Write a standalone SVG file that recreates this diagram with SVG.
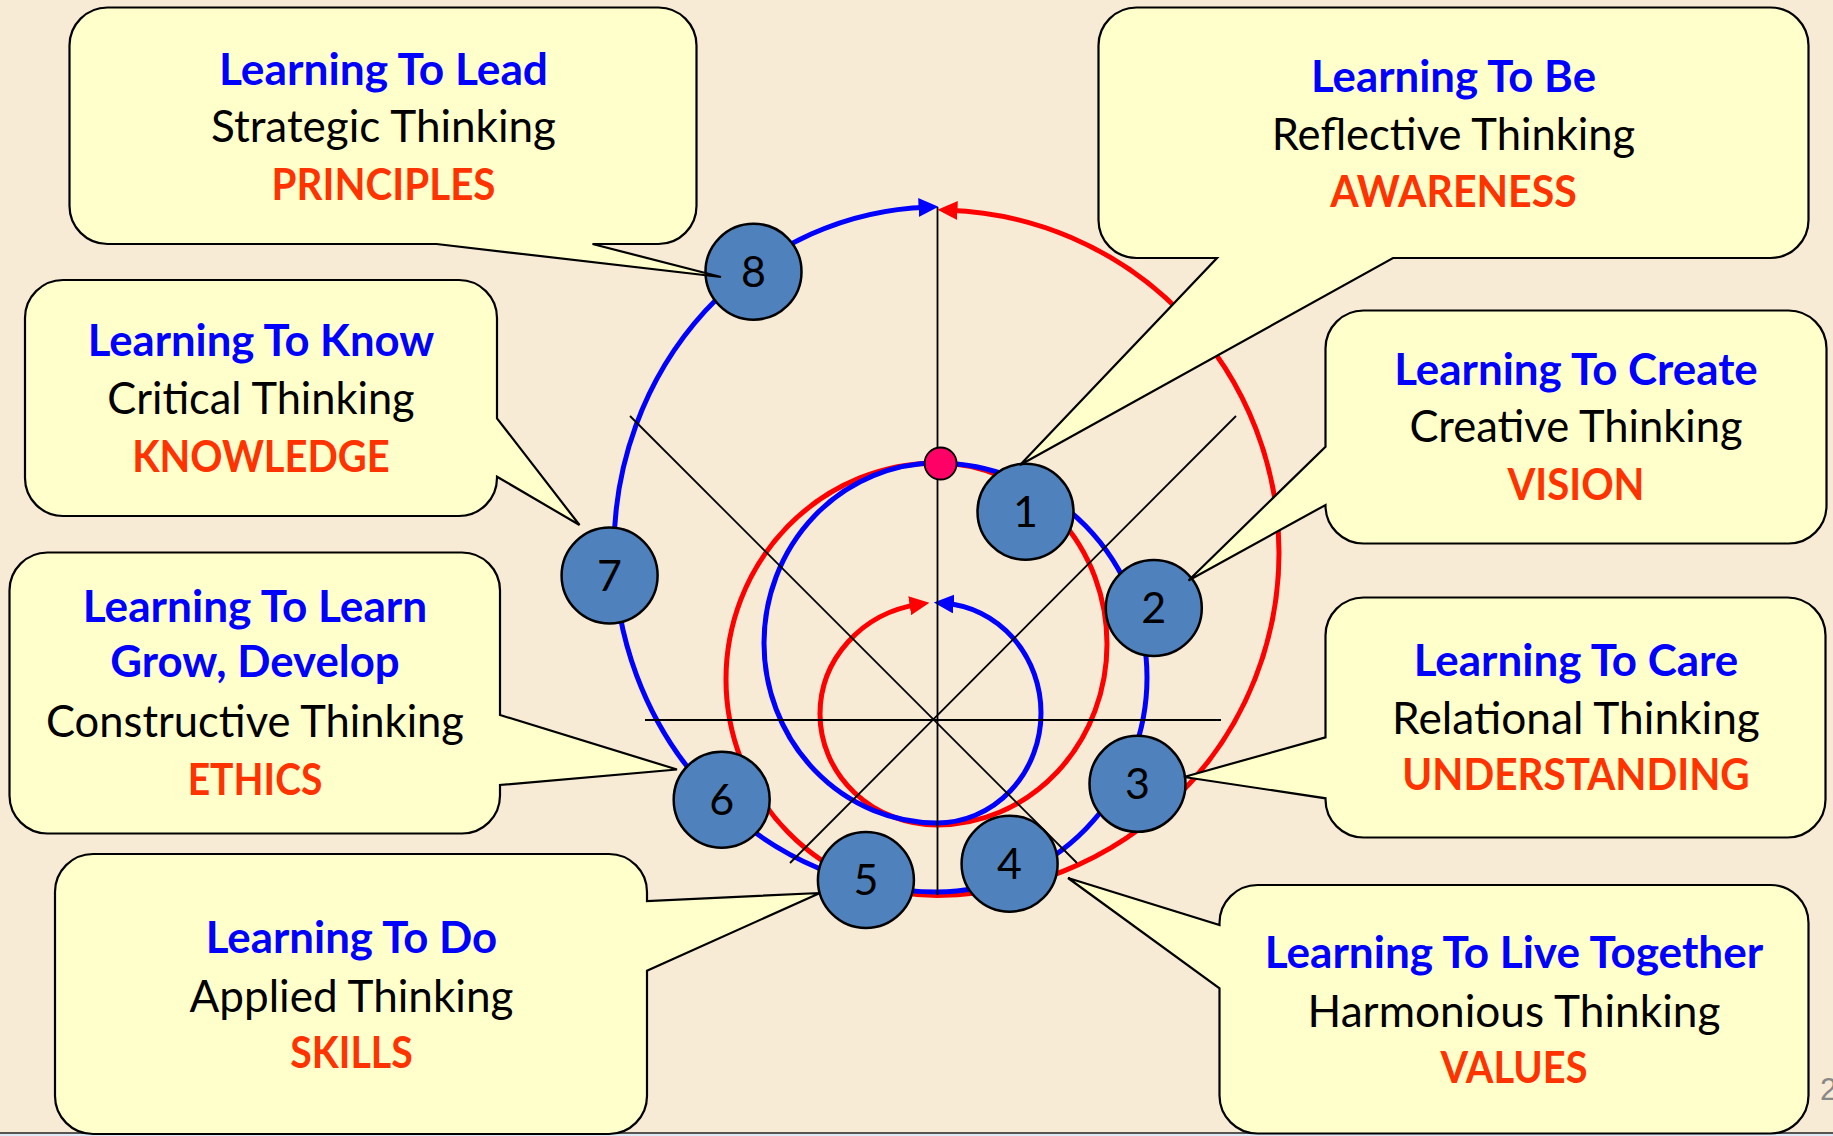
<svg xmlns="http://www.w3.org/2000/svg" width="1833" height="1136" viewBox="0 0 1833 1136">
<style>
.box{fill:#FFFFCC;stroke:#000;stroke-width:2.2;stroke-linejoin:miter}
.node{fill:#4F81BD;stroke:#000;stroke-width:2.5}
.t{font-family:Lato,"Liberation Sans",sans-serif;font-size:44px;text-anchor:middle}
.h{font-weight:700;fill:#0000FF}
.s{font-weight:400;fill:#000}
.k{font-weight:700;fill:#FF3300}
.num{font-family:Lato,"Liberation Sans",sans-serif;font-size:43px;text-anchor:middle;fill:#000}
.ax{stroke:#000;stroke-width:1.8;fill:none}
.sp{fill:none;stroke-width:5}
</style>
<defs>
<marker id="arrB" markerUnits="userSpaceOnUse" markerWidth="20" markerHeight="19" refX="9" refY="9.5" orient="auto-start-reverse"><path d="M0,0 L20,9.5 L0,19 Z" fill="#0000FF"/></marker>
<marker id="arrR" markerUnits="userSpaceOnUse" markerWidth="20" markerHeight="19" refX="9" refY="9.5" orient="auto-start-reverse"><path d="M0,0 L20,9.5 L0,19 Z" fill="#FF0000"/></marker>
</defs>
<rect x="0" y="0" width="1833" height="1136" fill="#F8EBD5"/>
<rect x="0" y="1133.5" width="1833" height="3" fill="#DCE9F5"/>
<line x1="0" y1="1133" x2="1833" y2="1133" stroke="#222" stroke-width="1.5"/>
<text x="1820" y="1100" font-family="Liberation Sans, sans-serif" font-size="31" fill="#888">2</text>

<g id="connectors">
<path class="sp" stroke="#FF0000" marker-start="url(#arrR)" marker-end="url(#arrR)" d="M948.5,210.2 A342,342.7 0 0 1 1279,552.7 A342,342.7 0 0 1 937,895.4 A211,216.2 0 0 1 726,679.2 A211,216.2 0 0 1 937,463 A170,181 0 0 1 1107,644 A170,181 0 0 1 937,825 A117,111 0 0 1 820,714 A117,111 0 0 1 918.6,604.4"/>
<path class="sp" stroke="#0000FF" marker-start="url(#arrB)" marker-end="url(#arrB)" d="M927.5,207.15 A323,342.5 0 0 0 614,549.5 A323,342.5 0 0 0 937,892 A210,214.5 0 0 0 1147,677.5 A210,214.5 0 0 0 937,463 A173,180 0 0 0 764,643 A173,180 0 0 0 937,823 A104,110 0 0 0 1041,713 A104,110 0 0 0 944.8,603.3"/>
<line class="ax" x1="937.5" y1="207" x2="937.5" y2="895"/>
<line class="ax" x1="645" y1="720" x2="1221" y2="720"/>
<line class="ax" x1="630" y1="416" x2="1077" y2="863"/>
<line class="ax" x1="1236" y1="416" x2="790" y2="863"/>
</g>

<g id="node-8"><circle class="node" cx="753.5" cy="271.7" r="48"/><text class="num" x="753.5" y="287">8</text></g>
<g id="node-1"><circle class="node" cx="1025.5" cy="511.7" r="48"/><text class="num" x="1025.5" y="527">1</text></g>
<g id="node-2"><circle class="node" cx="1153.8" cy="608" r="48"/><text class="num" x="1153.8" y="623">2</text></g>
<g id="node-7"><circle class="node" cx="609.6" cy="575.5" r="48"/><text class="num" x="609.6" y="591">7</text></g>
<g id="node-3"><circle class="node" cx="1137.5" cy="783.8" r="48"/><text class="num" x="1137.5" y="799">3</text></g>
<g id="node-6"><circle class="node" cx="721.7" cy="799.7" r="48"/><text class="num" x="721.7" y="815">6</text></g>
<g id="node-5"><circle class="node" cx="865.9" cy="880" r="48"/><text class="num" x="865.9" y="895">5</text></g>
<g id="node-4"><circle class="node" cx="1009.6" cy="863.7" r="48"/><text class="num" x="1009.6" y="879">4</text></g>
<g id="start-dot"><circle cx="940.6" cy="463.5" r="16" fill="#FF0066" stroke="#000" stroke-width="1.8"/></g>

<g id="callout-lead">
<path class="box" d="M107.5,7.5 H658.5 A38,38 0 0 1 696.5,45.5 V206 A38,38 0 0 1 658.5,244 H592.5 L721,277 L436.5,244 H107.5 A38,38 0 0 1 69.5,206 V45.5 A38,38 0 0 1 107.5,7.5 Z"/>
<text class="t h" x="383.5" y="85" textLength="329" lengthAdjust="spacingAndGlyphs">Learning To Lead</text>
<text class="t s" x="383.5" y="142" textLength="345" lengthAdjust="spacingAndGlyphs">Strategic Thinking</text>
<text class="t k" x="383.5" y="199.5" textLength="224" lengthAdjust="spacingAndGlyphs">PRINCIPLES</text>
</g>
<g id="callout-be">
<path class="box" d="M1136.5,7.5 H1770.5 A38,38 0 0 1 1808.5,45.5 V220 A38,38 0 0 1 1770.5,258 H1393 L1020,465 L1217,258 H1136.5 A38,38 0 0 1 1098.5,220 V45.5 A38,38 0 0 1 1136.5,7.5 Z"/>
<text class="t h" x="1453.5" y="91.7" textLength="285" lengthAdjust="spacingAndGlyphs">Learning To Be</text>
<text class="t s" x="1453.5" y="150" textLength="363.5" lengthAdjust="spacingAndGlyphs">Reflective Thinking</text>
<text class="t k" x="1453.5" y="206.5" textLength="246.4" lengthAdjust="spacingAndGlyphs">AWARENESS</text>
</g>
<g id="callout-know">
<path class="box" d="M63,280 H459 A38,38 0 0 1 497,318 V418.3 L579.5,525 L497,476.7 V478 A38,38 0 0 1 459,516 H63 A38,38 0 0 1 25,478 V318 A38,38 0 0 1 63,280 Z"/>
<text class="t h" x="261" y="356" textLength="346.4" lengthAdjust="spacingAndGlyphs">Learning To Know</text>
<text class="t s" x="261" y="414" textLength="307.3" lengthAdjust="spacingAndGlyphs">Critical Thinking</text>
<text class="t k" x="261" y="471.7" textLength="257.6" lengthAdjust="spacingAndGlyphs">KNOWLEDGE</text>
</g>
<g id="callout-create">
<path class="box" d="M1363.5,310.5 H1788.5 A38,38 0 0 1 1826.5,348.5 V505.5 A38,38 0 0 1 1788.5,543.5 H1363.5 A38,38 0 0 1 1325.5,505.5 V505 L1188.5,580.5 L1325.5,446.7 V348.5 A38,38 0 0 1 1363.5,310.5 Z"/>
<text class="t h" x="1576" y="385" textLength="363.6" lengthAdjust="spacingAndGlyphs">Learning To Create</text>
<text class="t s" x="1576" y="441.7" textLength="333.2" lengthAdjust="spacingAndGlyphs">Creative Thinking</text>
<text class="t k" x="1576" y="500" textLength="137.2" lengthAdjust="spacingAndGlyphs">VISION</text>
</g>
<g id="callout-learn">
<path class="box" d="M47.5,552.5 H462 A38,38 0 0 1 500,590.5 V715 L677,769.5 L500,785 V795.5 A38,38 0 0 1 462,833.5 H47.5 A38,38 0 0 1 9.5,795.5 V590.5 A38,38 0 0 1 47.5,552.5 Z"/>
<text class="t h" x="255" y="621.7" textLength="344.4" lengthAdjust="spacingAndGlyphs">Learning To Learn</text>
<text class="t h" x="255" y="676.7" textLength="289.3" lengthAdjust="spacingAndGlyphs">Grow, Develop</text>
<text class="t s" x="255" y="736.7" textLength="418" lengthAdjust="spacingAndGlyphs">Constructive Thinking</text>
<text class="t k" x="255" y="795" textLength="134.7" lengthAdjust="spacingAndGlyphs">ETHICS</text>
</g>
<g id="callout-care">
<path class="box" d="M1363.5,597.5 H1787.5 A38,38 0 0 1 1825.5,635.5 V799.5 A38,38 0 0 1 1787.5,837.5 H1363.5 A38,38 0 0 1 1325.5,799.5 V798.3 L1184,777 L1325.5,737.3 V635.5 A38,38 0 0 1 1363.5,597.5 Z"/>
<text class="t h" x="1576" y="676" textLength="324.6" lengthAdjust="spacingAndGlyphs">Learning To Care</text>
<text class="t s" x="1576" y="734" textLength="367.8" lengthAdjust="spacingAndGlyphs">Relational Thinking</text>
<text class="t k" x="1576" y="790" textLength="347.4" lengthAdjust="spacingAndGlyphs">UNDERSTANDING</text>
</g>
<g id="callout-do">
<path class="box" d="M93,854 H609 A38,38 0 0 1 647,892 V901 L820,893 L647,970.7 V1096 A38,38 0 0 1 609,1134 H93 A38,38 0 0 1 55,1096 V892 A38,38 0 0 1 93,854 Z"/>
<text class="t h" x="351.5" y="953.3" textLength="291.5" lengthAdjust="spacingAndGlyphs">Learning To Do</text>
<text class="t s" x="351.5" y="1011.7" textLength="323.8" lengthAdjust="spacingAndGlyphs">Applied Thinking</text>
<text class="t k" x="351.5" y="1068.3" textLength="122.5" lengthAdjust="spacingAndGlyphs">SKILLS</text>
</g>
<g id="callout-live">
<path class="box" d="M1257.5,885 H1770.5 A38,38 0 0 1 1808.5,923 V1095.5 A38,38 0 0 1 1770.5,1133.5 H1257.5 A38,38 0 0 1 1219.5,1095.5 V988.3 L1068,878 L1219.5,925 V923 A38,38 0 0 1 1257.5,885 Z"/>
<text class="t h" x="1514" y="968.3" textLength="498.6" lengthAdjust="spacingAndGlyphs">Learning To Live Together</text>
<text class="t s" x="1514" y="1026.7" textLength="412.8" lengthAdjust="spacingAndGlyphs">Harmonious Thinking</text>
<text class="t k" x="1514" y="1083.3" textLength="147" lengthAdjust="spacingAndGlyphs">VALUES</text>
</g>
</svg>
